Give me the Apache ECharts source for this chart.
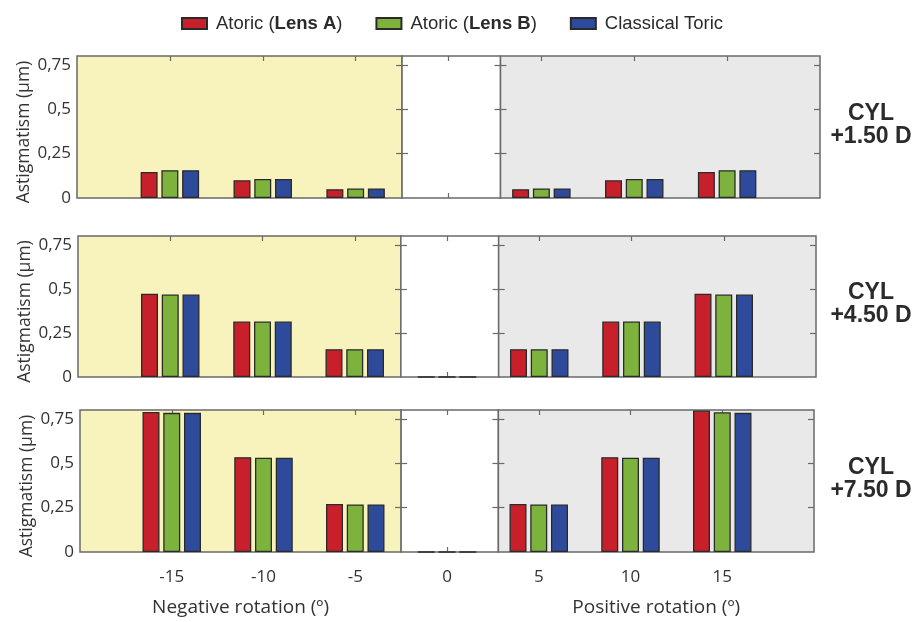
<!DOCTYPE html>
<html>
<head>
<meta charset="utf-8">
<script src="https://cdn.jsdelivr.net/npm/echarts@6/dist/echarts.min.js"></script>
<style>
html,body{margin:0;padding:0;background:#fff;}
#chart{width:915px;height:622px;}
</style>
</head>
<body>
<div id="chart"></div>
<script>
// ---------- data ----------
const categories = [-15, -10, -5, 0, 5, 10, 15];
const seriesNames = ['Atoric (Lens A)', 'Atoric (Lens B)', 'Classical Toric'];
const panelLabels = ['CYL\n+1.50 D', 'CYL\n+4.50 D', 'CYL\n+7.50 D'];
const yTicks = [0, 0.25, 0.5, 0.75];
const yTickLabels = ['0', '0,25', '0,5', '0,75'];
const xTickLabels = ['-15', '-10', '-5', '0', '5', '10', '15'];

// CYL +1.50 D
const lensA_150 = [0.147, 0.100, 0.050, null, 0.050, 0.100, 0.147];
const lensB_150 = [0.157, 0.107, 0.054, null, 0.054, 0.107, 0.157];
const toric_150 = [0.157, 0.107, 0.054, null, 0.054, 0.107, 0.157];
// CYL +4.50 D
const lensA_450 = [0.472, 0.315, 0.158, 0, 0.158, 0.315, 0.472];
const lensB_450 = [0.468, 0.315, 0.158, 0, 0.158, 0.315, 0.468];
const toric_450 = [0.468, 0.315, 0.158, 0, 0.158, 0.315, 0.468];
// CYL +7.50 D
const lensA_750 = [0.789, 0.534, 0.270, 0, 0.270, 0.534, 0.797];
const lensB_750 = [0.784, 0.531, 0.268, 0, 0.268, 0.531, 0.787];
const toric_750 = [0.784, 0.531, 0.268, 0, 0.268, 0.531, 0.784];

const panelData = [
  [lensA_150, lensB_150, toric_150],
  [lensA_450, lensB_450, toric_450],
  [lensA_750, lensB_750, toric_750]
];

// ---------- layout & style ----------
const colors = ['#C8202B', '#7DB33D', '#2E4A9B'];
const panels = [
  {top: 56, height: 142, left: 77, right: 820},
  {top: 236, height: 141, left: 78, right: 816},
  {top: 410, height: 142, left: 80, right: 814}
];
const XMIN = -20, XMAX = 20;
const sections = [
  {min: -20, max: -2.5, bg: '#F8F3BC', name: 'Negative rotation (º)', yLabels: true},
  {min: -2.5, max: 2.8, bg: '#FFFFFF', name: '', yLabels: false},
  {min: 2.8, max: 20, bg: '#E9E9E9', name: 'Positive rotation (º)', yLabels: false}
];
const frameColor = '#6a6a6a';
const textColor = '#333333';
const axisFont = '"Open Sans", "Noto Sans", sans-serif';

const grids = [], xAxes = [], yAxes = [], series = [], graphics = [];

panels.forEach((p, pi) => {
  const W = p.right - p.left;
  sections.forEach((s, si) => {
    const gi = grids.length;
    const gl = p.left + (s.min - XMIN) / (XMAX - XMIN) * W;
    const gw = (s.max - s.min) / (XMAX - XMIN) * W;
    grids.push({
      left: gl, top: p.top, width: gw, height: p.height,
      show: true, backgroundColor: s.bg, borderColor: frameColor, borderWidth: 1.5
    });
    const inRange = categories.filter(c => c > s.min && c < s.max);
    const isBottom = pi === panels.length - 1;
    const tick = {show: true, inside: true, length: 5, customValues: inRange,
      lineStyle: {color: frameColor, width: 1.2}};
    // bottom x axis
    xAxes.push({
      type: 'value', gridIndex: gi, min: s.min, max: s.max, position: 'bottom',
      axisLine: {show: false, onZero: false}, splitLine: {show: false},
      axisTick: tick,
      axisLabel: {
        show: isBottom, customValues: inRange, margin: 17,
        formatter: v => xTickLabels[categories.indexOf(v)],
        fontSize: 17, color: textColor, fontFamily: axisFont
      },
      name: isBottom ? s.name : '', nameLocation: 'middle', nameGap: 46,
      nameTextStyle: {fontSize: 19, color: textColor, fontFamily: axisFont}
    });
    const bottomX = xAxes.length - 1;
    // top x axis
    xAxes.push({
      type: 'value', gridIndex: gi, min: s.min, max: s.max, position: 'top',
      axisLine: {show: false, onZero: false}, splitLine: {show: false},
      axisTick: tick, axisLabel: {show: false}
    });
    const ytick = {show: true, inside: true, length: 6, customValues: [0.25, 0.5, 0.75],
      lineStyle: {color: frameColor, width: 1.2}};
    // left y axis
    yAxes.push({
      type: 'value', gridIndex: gi, min: 0, max: 0.8, position: 'left',
      axisLine: {show: false, onZero: false}, splitLine: {show: false},
      axisTick: s.yLabels ? {show: false} : ytick,
      axisLabel: {
        show: s.yLabels, customValues: yTicks, margin: 6,
        formatter: v => yTickLabels[yTicks.indexOf(v)],
        fontSize: 17, color: textColor, fontFamily: axisFont
      },
      name: s.yLabels ? 'Astigmatism (µm)' : '', nameLocation: 'middle', nameGap: 44,
      nameTextStyle: {fontSize: 17.5, color: textColor, fontFamily: axisFont,
        padding: [0, 0, 0, -10]}
    });
    const leftY = yAxes.length - 1;
    // right y axis
    yAxes.push({
      type: 'value', gridIndex: gi, min: 0, max: 0.8, position: 'right',
      axisLine: {show: false, onZero: false}, splitLine: {show: false},
      axisTick: ytick, axisLabel: {show: false}
    });
    seriesNames.forEach((nm, k) => {
      const vals = panelData[pi][k];
      const data = [];
      categories.forEach((c, ci) => {
        if (c > s.min && c < s.max && vals[ci] !== null) data.push([c, vals[ci]]);
      });
      series.push({
        type: 'bar', name: nm, xAxisIndex: bottomX, yAxisIndex: leftY,
        data: data, barWidth: 17, barGap: '22%',
        itemStyle: {color: colors[k], borderColor: '#2a2a2a', borderWidth: 1.3},
        emphasis: {disabled: true}, animation: false
      });
    });
  });
  graphics.push({
    type: 'text', x: 871, y: p.top + p.height / 2 - 2,
    style: {
      text: panelLabels[pi], align: 'center', verticalAlign: 'middle',
      fontSize: 23, fontWeight: 'bold', lineHeight: 23,
      fontFamily: '"Liberation Sans", Arial, sans-serif', fill: '#2b2b2b'
    }
  });
});

const chart = echarts.init(document.getElementById('chart'), null, {renderer: 'canvas'});
chart.setOption({
  animation: false,
  backgroundColor: '#ffffff',
  legend: {
    data: seriesNames, top: 9, left: 176, itemWidth: 25, itemHeight: 11, itemGap: 33,
    icon: 'rect',
    textStyle: {
      fontSize: 18.5, color: '#2b2b2b', fontFamily: '"Liberation Sans", Arial, sans-serif',
      padding: [0, 0, 0, 4],
      rich: {b: {fontSize: 18.5, fontWeight: 'bold', color: '#2b2b2b',
        fontFamily: '"Liberation Sans", Arial, sans-serif'}}
    },
    formatter: name => name.replace(/\((Lens [AB])\)/, '({b|$1})')
  },
  grid: grids, xAxis: xAxes, yAxis: yAxes, series: series, graphic: graphics
});
</script>
</body>
</html>
